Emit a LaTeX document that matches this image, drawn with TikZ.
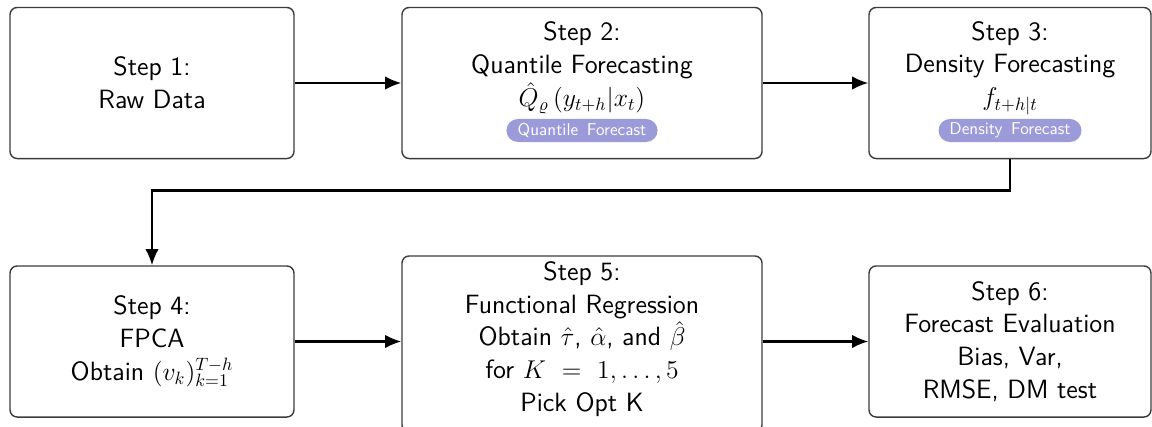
\documentclass[tikz,border=0pt]{standalone}
\usetikzlibrary{arrows.meta}
\definecolor{badgefill}{RGB}{155,155,218}
\definecolor{boxline}{RGB}{60,60,60}
\newcommand{\stepfont}{\sffamily\fontsize{14.8}{18.4}\selectfont}
\tikzset{
  stepbox/.style={draw=boxline, line width=0.8pt, rounded corners=4pt, fill=white,
    inner sep=0pt, align=center, font=\stepfont},
  steptext/.style={inner sep=0pt, align=center, font=\stepfont},
  badge/.style={fill=badgefill, rounded corners=6.4pt, inner sep=0pt,
    minimum height=12.9pt, text=white, font=\sffamily\fontsize{9.6}{11}\selectfont},
  flow/.style={line width=1.2pt, -{Latex[length=9pt,width=7.5pt]}}
}
\begin{document}
\begin{tikzpicture}[x=0.56pt,y=-0.56pt]
\useasboundingbox (0,0) rectangle (1152,426);
\clip (0,0) rectangle (1152,426);
% row 1
\node[stepbox, minimum width=159pt, minimum height=84.6pt] (b1) at (152,83) {Step 1:\\Raw Data};
\node[stepbox, minimum width=201.6pt, minimum height=84.6pt] (b2) at (582,83) {};
\node[steptext] (t2) at (582,68) {Step 2:\\Quantile Forecasting\\$\hat{Q}_{\varrho}\left(y_{t+h}|x_t\right)$};
\node[badge, minimum width=84.6pt] (q2) at (582,130.5) {Quantile\, Forecast};
\node[stepbox, minimum width=157.9pt, minimum height=84.6pt] (b3) at (1010,83) {};
\node[steptext] (t3) at (1010,68) {Step 3:\\Density Forecasting\\$f_{t+h|t}$};
\node[badge, minimum width=80pt] (q3) at (1010,130.5) {Density\, Forecast};
% row 2
\node[stepbox, minimum width=159pt, minimum height=84.6pt] (b4) at (152,341.5) {Step 4:\\FPCA\\Obtain $(v_k)_{k=1}^{T-h}$};
\node[stepbox, minimum width=201.6pt, minimum height=98.6pt] (b5) at (582,344) {};
\node[steptext] (t5) at (582,339) {Step 5:\\Functional Regression\\Obtain $\hat{\tau}$, $\hat{\alpha}$, and $\hat{\beta}$\\for $K \ = \ 1,\ldots,5$\\Pick Opt K};
\node[stepbox, minimum width=157.9pt, minimum height=84.6pt] (b6) at (1010,341.5) {Step 6:\\Forecast Evaluation\\Bias, Var,\\RMSE, DM test};
% connectors
\coordinate (c1) at (1010,190.5);
\coordinate (c2) at (152,190.5);
\draw[flow] (b1) -- (b2);
\draw[flow] (b2) -- (b3);
\draw[flow] (b3.south) -- (c1) -- (c2) -- (b4.north);
\draw[flow] (b4) -- (b4 -| b5.west);
\draw[flow] (b5.east |- b6) -- (b6);
\end{tikzpicture}
\end{document}
